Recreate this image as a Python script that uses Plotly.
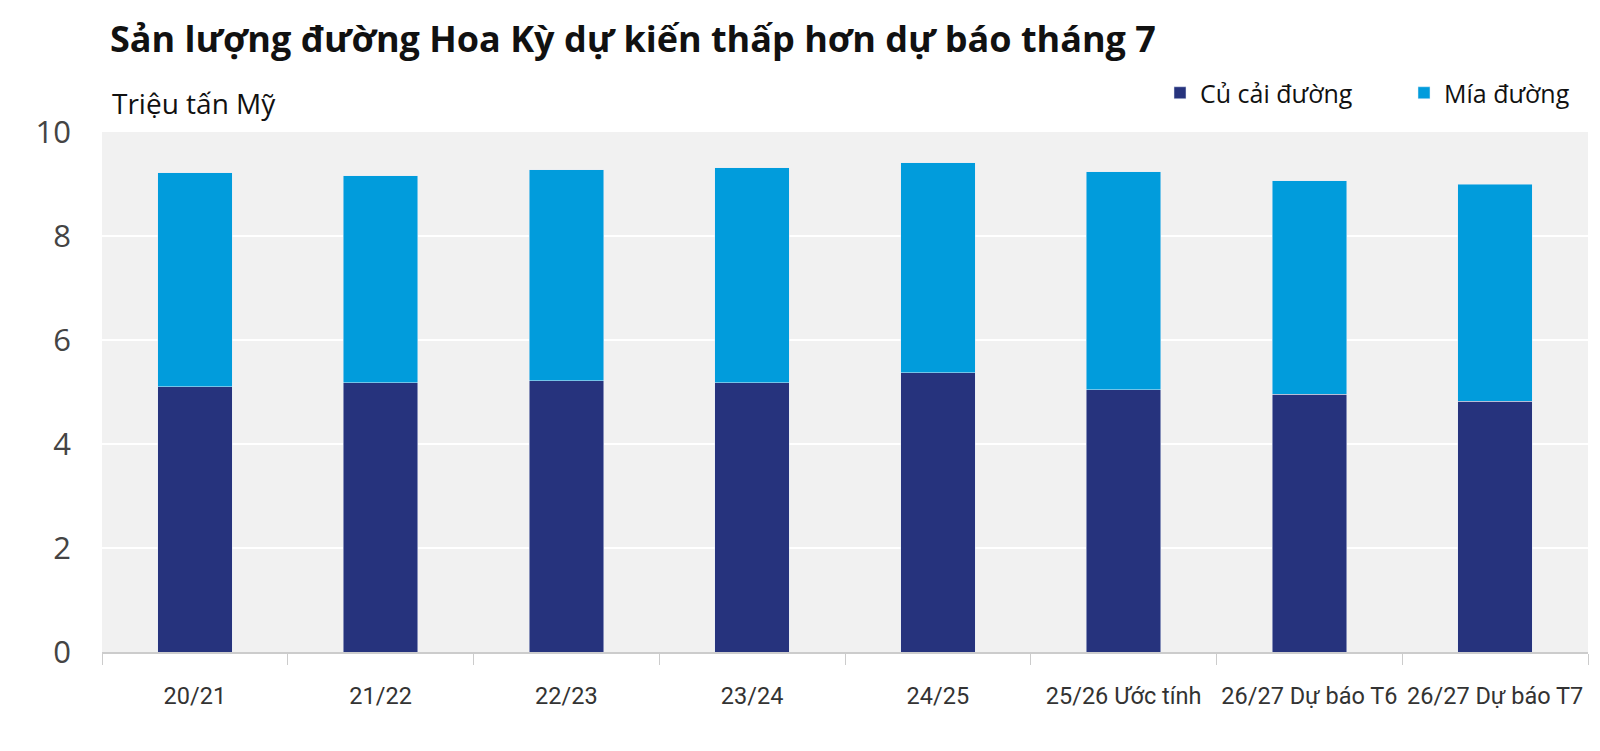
import plotly.graph_objects as go

# Niên vụ / dự báo
seasons = [
    "20/21", "21/22", "22/23", "23/24", "24/25",
    "25/26 Ước tính", "26/27 Dự báo T6", "26/27 Dự báo T7",
]
# triệu tấn Mỹ (ước)
beet = [5.10, 5.18, 5.22, 5.18, 5.37, 5.04, 4.96, 4.82]
cane = [4.12, 3.98, 4.05, 4.13, 4.04, 4.20, 4.10, 4.18]

BEET_COLOR = "#26337d"
CANE_COLOR = "#019cdc"
FONT = "Open Sans"

W, H = 1600, 751
PLOT_L, PLOT_R = 94, 1580
PLOT_TOP, PLOT_BOTTOM = 124, 644
PLOT_W = PLOT_R - PLOT_L
PLOT_H = PLOT_BOTTOM - PLOT_TOP


def paper_x(px):
    return (px - PLOT_L) / PLOT_W


def paper_y(px):
    return (PLOT_BOTTOM - px) / PLOT_H


fig = go.Figure()
fig.add_trace(go.Bar(x=seasons, y=beet, name="Củ cải đường", marker_color=BEET_COLOR, width=0.4))
fig.add_trace(go.Bar(x=seasons, y=cane, name="Mía đường", marker_color=CANE_COLOR, width=0.4))

fig.update_layout(
    barmode="stack",
    width=W,
    height=H,
    paper_bgcolor="white",
    plot_bgcolor="#f1f1f1",
    font=dict(family=FONT, color="#333333"),
    margin=dict(l=PLOT_L, r=W - PLOT_R, t=PLOT_TOP, b=H - PLOT_BOTTOM, autoexpand=False),
    title=dict(
        text="<b>Sản lượng đường Hoa Kỳ dự kiến thấp hơn dự báo tháng 7</b>",
        x=102 / W, xanchor="left", y=1 - 31 / H, yanchor="middle",
        font=dict(size=36, color="#111111"),
    ),
    legend=dict(
        orientation="h", x=paper_x(1640), xanchor="right", y=paper_y(85), yanchor="middle",
        font=dict(size=25, color="#111111"),
        itemwidth=30, traceorder="normal", entrywidth=199,
    ),
    annotations=[
        dict(
            text="Triệu tấn Mỹ", xref="paper", yref="paper",
            x=paper_x(102), xanchor="left", y=paper_y(95), yanchor="middle",
            showarrow=False, font=dict(size=28, color="#111111"),
        )
    ],
    bargap=0.6,
)
fig.update_yaxes(
    range=[0, 10], dtick=2, showgrid=True, gridcolor="white", gridwidth=2,
    tickfont=dict(size=31, color="#444444"), ticks="", zeroline=False,
    ticklabelstandoff=30, automargin=False,
)
fig.update_xaxes(
    showline=True, linecolor="#cccccc", linewidth=2,
    ticks="outside", tickson="boundaries", ticklen=11, tickcolor="#cccccc",
    tickfont=dict(family="Roboto", size=23.5, color="#333333"), tickangle=0,
    ticklabelstandoff=22, automargin=False,
)

fig.write_html("out.html")
